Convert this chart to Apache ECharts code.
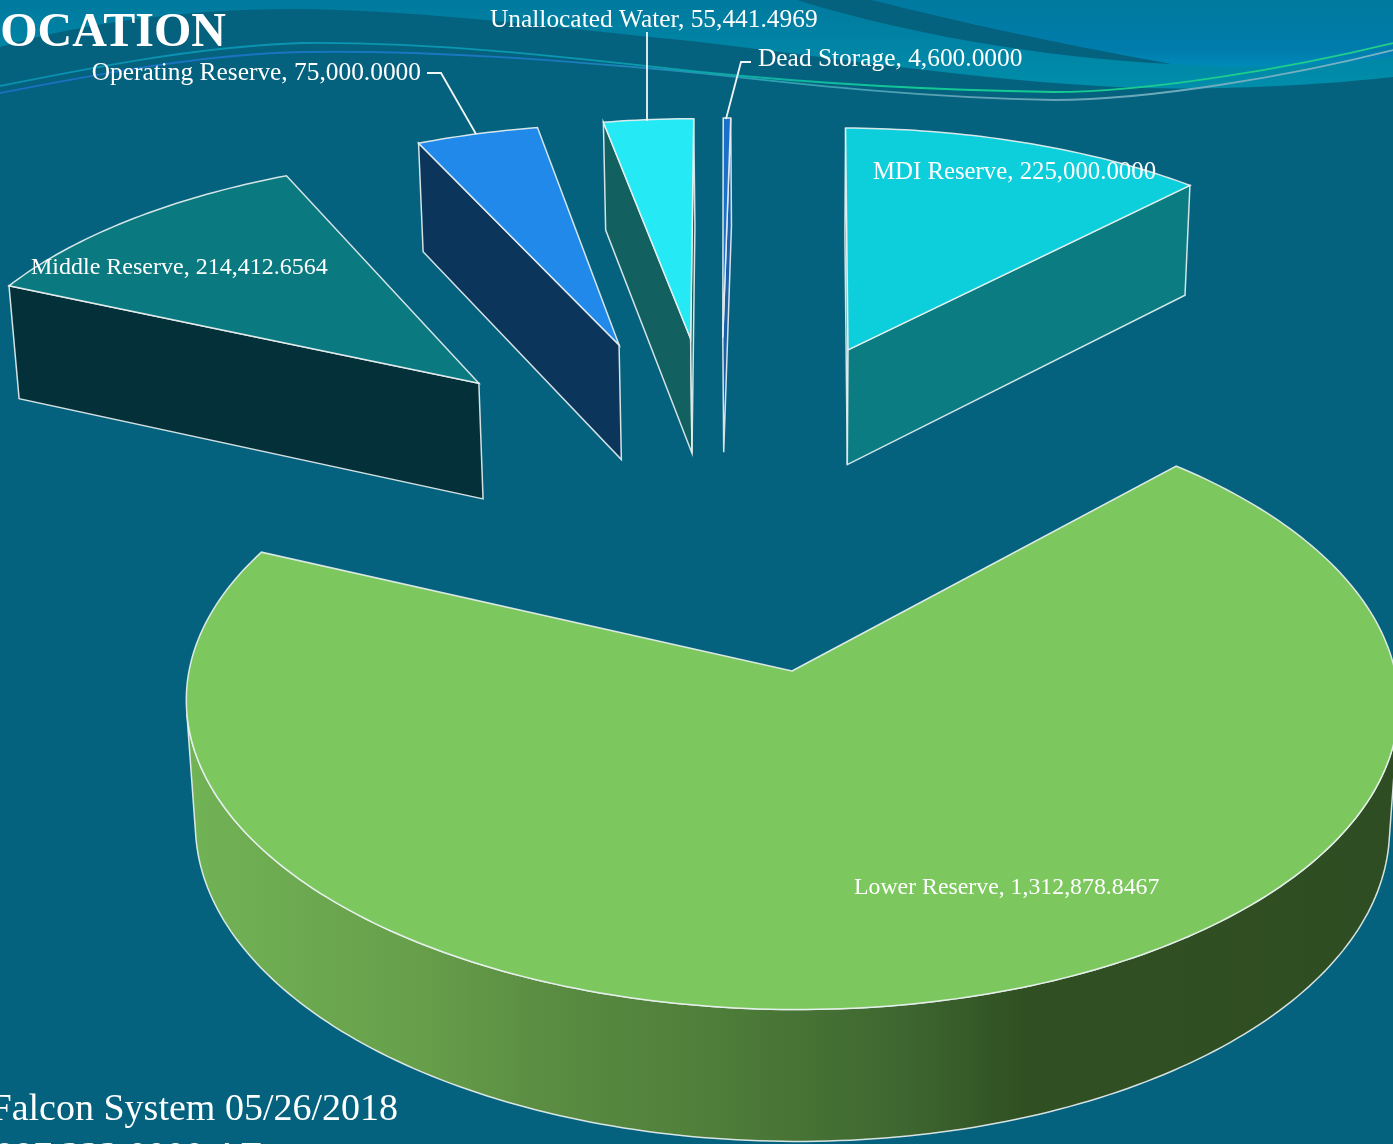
<!DOCTYPE html>
<html><head><meta charset="utf-8">
<style>html,body{margin:0;padding:0;background:#04627e;overflow:hidden}#c{width:1393px;height:1144px}</style>
<script src="https://cdn.jsdelivr.net/npm/echarts@6/dist/echarts.min.js"></script>
</head><body><div id="c"></div>
<script>
// ---- data ----
const categories = ['Lower Reserve','Middle Reserve','Operating Reserve','Unallocated Water','Dead Storage','MDI Reserve'];
const values = [1312878.8467,214412.6564,75000.0000,55441.4969,4600.0000,225000.0000];
const titleText = 'ALLOCATION';
const footerLine1 = 'Falcon System 05/26/2018';
const footerUnit = 'AF';

// ---- styles / layout ----
const topColors = ['#7cc85f','#0a7a80','#2089ea','#25e9f4','#1b6fc8','#0ccfdb'];
const sideColors = [null,'#04303a','#0c355c','#126060','#1b5fa8','#0a7c82'];
// explosion of each slice on the pie plane (unit = radius)
const explode = [[0,0],[-0.567,1.048],[-0.313,1.204],[-0.18,1.23],[-0.12,1.234],[0.113,1.184]];
const labelPos = [[854,888,'left'],[31,268,'left'],[421,73,'right'],[490,20,'left'],[758,59,'left'],[873,172,'left']];
const labelSize = [23.8,24,25.4,25.4,25.4,24.8];
const leaders = [null,null,[[427,73],[441,73],[476,134]],[[647,32],[647,121]],[[751,62],[741,62],[726,119]],null];
const EDGE = 'rgba(235,242,242,0.9)';
const START = 43.6;
const cam = {cx:792,y0:671,f:603,s:-4.5,g:304,k:0.102,m:0.015,n:125.5};

function project(X,Y,Z){
  const w = 1+cam.k*Y+cam.m*Z;
  return [cam.cx+(cam.f*X+cam.s*Y)/w, cam.y0+(-cam.g*Y+cam.n*Z)/w];
}
function area(p){let s=0;for(let i=0;i<p.length;i++){const a=p[i],b=p[(i+1)%p.length];s+=a[0]*b[1]-b[0]*a[1];}return s;}
const total = values.reduce((a,b)=>a+b,0);
const fmt = v => v.toLocaleString('en-US',{minimumFractionDigits:4,maximumFractionDigits:4});
const startAngles = [];
values.reduce((acc,v,i)=>{startAngles[i]=acc;return acc+v/total*360;},START);

function wallFill(i){
  if(sideColors[i]) return sideColors[i];
  return new echarts.graphic.LinearGradient(186,0,1393,0,[
    {offset:0,color:'#72b356'},{offset:0.19,color:'#679f4a'},{offset:0.3,color:'#5a8c42'},
    {offset:0.43,color:'#4f7f3a'},{offset:0.595,color:'#3e6630'},{offset:0.693,color:'#305022'},{offset:1,color:'#2f4d22'}],true);
}

function renderItem(params,api){
  const i = params.dataIndex;
  const val = api.value(0);
  const a0 = startAngles[i], a1 = a0+val/total*360;
  const [ox,oy] = explode[i];
  const steps = Math.max(1,Math.ceil((a1-a0)/1));
  const rim3 = [[ox,oy]];
  for(let s=0;s<=steps;s++){
    const t=(a0+(a1-a0)*s/steps)*Math.PI/180;
    rim3.push([ox+Math.sin(t),oy+Math.cos(t)]);
  }
  const top = rim3.map(p=>project(p[0],p[1],0));
  const bot = rim3.map(p=>project(p[0],p[1],1));
  const n = rim3.length;
  const children = [];
  const fill = wallFill(i);
  let run = null;
  const flush = ()=>{
    if(!run) return;
    const pts = run.map(j=>top[j]).concat(run.slice().reverse().map(j=>bot[j]));
    children.push({type:'polygon',silent:true,shape:{points:pts},style:{fill:fill,stroke:EDGE,lineWidth:1.5}});
    run=null;
  };
  for(let e=0;e<n;e++){
    const a=e,b=(e+1)%n;
    const vis = area([top[a],top[b],bot[b],bot[a]])<0;
    if(vis){
      if(run && run[run.length-1]===a && a>0 && b>0){run.push(b);}
      else{flush();run=[a,b];}
    } else flush();
  }
  flush();
  children.push({type:'polygon',silent:true,shape:{points:top},style:{fill:topColors[i],stroke:EDGE,lineWidth:1.5}});
  if(leaders[i]) children.push({type:'polyline',silent:true,z2:20,shape:{points:leaders[i]},style:{fill:null,stroke:'#f2f6f6',lineWidth:1.8}});
  const lp = labelPos[i];
  children.push({type:'text',silent:true,z2:30,style:{text:categories[i]+', '+fmt(val),x:lp[0],y:lp[1],align:lp[2],verticalAlign:'middle',font:labelSize[i]+'px "Liberation Serif"',fill:'#ffffff'}});
  return {type:'group',children};
}

function wave(name,d){echarts.graphic.registerShape(name,echarts.graphic.extendPath(d,{}));return name;}
wave('bandA','M0,47 C70,26 180,8 303,9 C430,11 560,28 700,42 C850,60 1010,84 1142,88 C1230,90 1320,85 1393,77 L1393,0 L0,0 Z');
wave('wedge','M797,0 C900,32 1040,58 1173,64 C1060,44 960,22 872,0 Z');
wave('bandB','M872,0 C960,22 1060,44 1173,64 C1250,70 1330,66 1393,57 L1393,0 Z');
wave('line1','M0,86 C90,68 200,46 303,43 C430,42 560,56 700,72 C800,82 920,90 1054,92 C1150,92 1290,68 1393,43');
wave('line2','M0,93 C90,76 200,54 303,52 C430,50 560,60 700,73 C800,84 920,98 1054,100 C1150,100 1290,76 1393,50');

const LG = echarts.graphic.LinearGradient;
const chart = echarts.init(document.getElementById('c'),null,{renderer:'canvas',width:1393,height:1144});
const bg = [
 {type:'bandA',z:1,silent:true,style:{fill:new LG(0,0,0,90,[{offset:0,color:'#007a9e'},{offset:1,color:'#008eab'}],true)}},
 {type:'wedge',z:2,silent:true,style:{fill:'#04627e'}},
 {type:'bandB',z:2,silent:true,style:{fill:new LG(0,0,0,66,[{offset:0,color:'#007a9f'},{offset:0.75,color:'#007cac'},{offset:1,color:'#008ab8'}],true)}},
 {type:'line2',z:3,silent:true,style:{fill:null,lineWidth:1.8,stroke:new LG(0,0,1393,0,[{offset:0,color:'#1a70c0'},{offset:0.4,color:'#1a78c0'},{offset:0.55,color:'#2aa0b0'},{offset:0.7,color:'#62a2b4'},{offset:1,color:'#78b4c4'}],true)}},
 {type:'line1',z:3,silent:true,style:{fill:null,lineWidth:1.8,stroke:new LG(0,0,1393,0,[{offset:0,color:'#0a8fb0'},{offset:0.45,color:'#0a9ab0'},{offset:0.65,color:'#12c896'},{offset:1,color:'#22d08a'}],true)}},
 {type:'text',z:50,silent:true,style:{text:titleText,x:226,y:34,align:'right',verticalAlign:'middle',font:'bold 48px "Liberation Serif"',fill:'#ffffff'}},
 {type:'text',z:50,silent:true,style:{text:footerLine1,x:398,y:1110,align:'right',verticalAlign:'middle',font:'38px "Liberation Serif"',fill:'#ffffff'}},
 {type:'text',z:50,silent:true,style:{text:fmt(total)+' '+footerUnit,x:262,y:1158,align:'right',verticalAlign:'middle',font:'38px "Liberation Serif"',fill:'#ffffff'}}
];
chart.setOption({
  animation:false,
  backgroundColor:'#04627e',
  graphic:{elements:bg},
  series:[{type:'custom',coordinateSystem:'none',z:10,clip:false,renderItem,
    data:values.map((v,i)=>({name:categories[i],value:[v]}))}]
});
</script></body></html>
